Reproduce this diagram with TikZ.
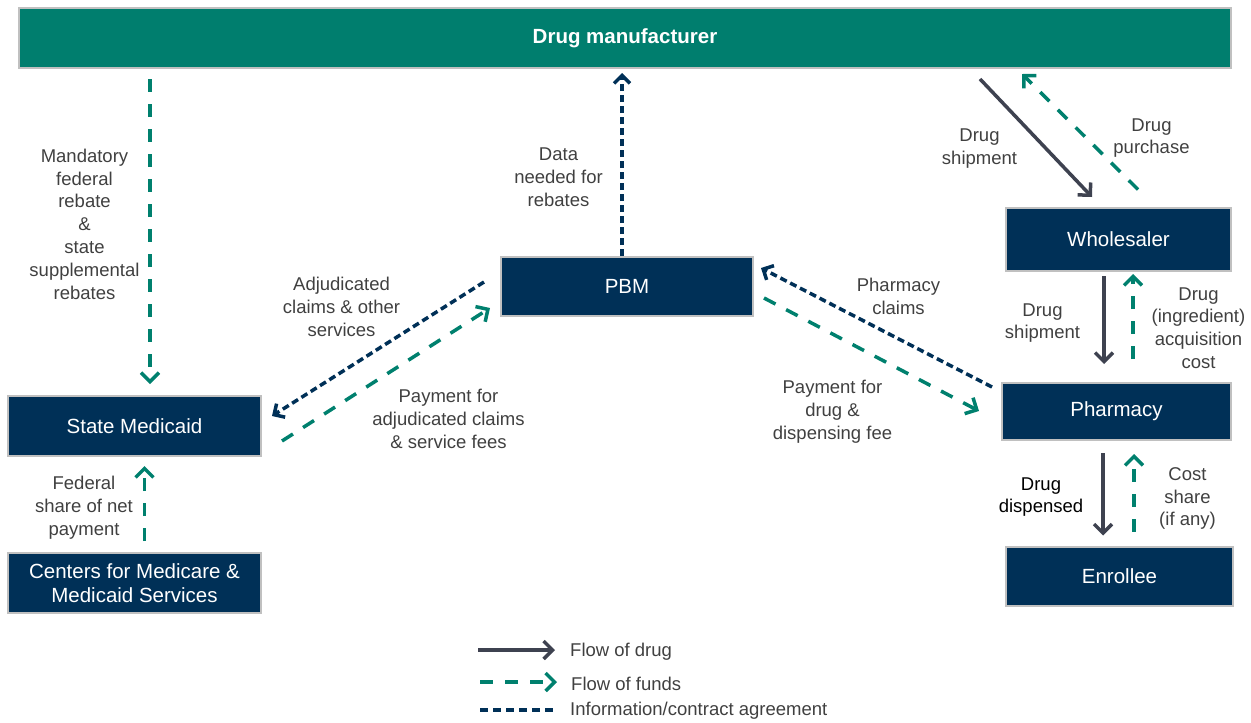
\documentclass[tikz,border=0pt]{standalone}
\usepackage{fontspec}
\setmainfont{Liberation Sans}
\usetikzlibrary{arrows.meta,calc}

\definecolor{mfrgreen}{RGB}{0,126,110}
\definecolor{boxnavy}{RGB}{0,48,87}
\definecolor{druggray}{RGB}{62,66,80}
\definecolor{fundgreen}{RGB}{0,128,110}
\definecolor{edgegray}{RGB}{192,192,192}
\definecolor{txtgray}{RGB}{64,64,64}

\newcommand\boxfont{\fontsize{20.5}{24.5}\selectfont}
\newcommand\lblfont{\fontsize{18.5}{22.8}\selectfont}

\begin{document}
\begin{tikzpicture}[x=1pt,y=-1pt,
   entity/.style={draw=edgegray,line width=2pt,fill=boxnavy,text=white,
      font=\boxfont,align=center,inner sep=0pt},
   lbl/.style={text=txtgray,font=\lblfont,align=center,inner sep=0pt},
   drug/.style={draw=druggray,line width=3.5pt,
      -{Straight Barb[length=9pt,width=18pt]}},
   funds/.style={draw=fundgreen,line width=3.5pt,dash pattern=on 13pt off 12pt,
      -{Straight Barb[length=9pt,width=18pt]}},
   info/.style={draw=boxnavy,line width=3.5pt,dash pattern=on 7pt off 4pt,
      -{Straight Barb[length=8pt,width=16pt]}}]

\useasboundingbox (0,0) rectangle (1251,723);

% parties
\node[entity,fill=mfrgreen,font=\boxfont\bfseries,minimum width=1212pt,minimum height=60pt]
   (mfr) at (625,38) {Drug manufacturer};
\node[entity,minimum width=225pt,minimum height=63pt] (wh) at (1118.5,239.5) {Wholesaler};
\node[entity,minimum width=252pt,minimum height=59pt] (pbm) at (627,286.5) {PBM};
\node[entity,minimum width=253pt,minimum height=60pt] (sm) at (134.5,426) {State Medicaid};
\node[entity,minimum width=253pt,minimum height=60pt] (cms) at (134.5,583)
   {Centers for Medicare \&\\Medicaid Services};
\node[entity,minimum width=229pt,minimum height=57pt] (ph) at (1116.5,411.5) {Pharmacy};
\node[entity,minimum width=227pt,minimum height=59pt] (en) at (1119.5,576) {Enrollee};

% flows between the parties
\draw[funds] ($(sm.north |- mfr.south)+(15.5,10)$) -- ($(sm.north)+(15.5,-11)$);
\draw[info] ($(pbm.north)+(-5,0)$) -- ($(pbm.north |- mfr.south)+(-5,4)$);
\draw[drug] ($(wh.north |- mfr.south)+(-138.5,10)$) -- ($(wh.north)+(-26.5,-10)$);
\draw[funds] ($(wh.north)+(19.5,-17.5)$) -- ($(wh.north |- mfr.south)+(-96.5,5)$);
\draw[drug] ($(wh.south)+(-14.5,4)$) -- ($(ph.north -| wh.south)+(-14.5,-18)$);
\draw[funds] ($(ph.north -| wh.south)+(14.5,-23)$) -- ($(wh.south)+(14.5,2)$);
\draw[drug] ($(ph.south)+(-13.5,12)$) -- ($(en.north -| ph.south)+(-13.5,-10)$);
\draw[funds] ($(en.north -| ph.south)+(17.5,-14)$) -- ($(ph.south)+(17.5,13)$);
\draw[funds] ($(cms.north)+(10,-11)$) -- ($(sm.south)+(10,9)$);
\draw[info] ($(pbm.west)+(-16,-4.5)$) -- ($(sm.east)+(10,-10)$);
\draw[funds] ($(sm.east)+(20,15)$) -- ($(pbm.west)+(-10,21.5)$);
\draw[info] ($(ph.west)+(-9,-24.5)$) -- ($(pbm.east)+(7,-18.5)$);
\draw[funds] ($(pbm.east)+(10,11.5)$) -- ($(ph.west)+(-22,-0.5)$);

% flow labels
\node[lbl] (mandl) at (84.5,224) {Mandatory\\federal\\rebate\\\&\\state\\supplemental\\rebates};
\node[lbl] (datal) at (558.5,177.5) {Data\\needed for\\rebates};
\node[lbl] (shipl) at (979.5,148.5) {Drug\\shipment};
\node[lbl] (purchl) at (1151.5,138) {Drug\\purchase};
\node[lbl] (adjl) at (341.5,307) {Adjudicated\\claims \& other\\services};
\node[lbl] (payadjl) at (448.5,419) {Payment for\\adjudicated claims\\\& service fees};
\node[lbl] (phclaiml) at (898.5,296.5) {Pharmacy\\claims};
\node[lbl] (payphl) at (832.5,412) {Payment for\\drug \&\\dispensing fee};
\node[lbl] (ship2l) at (1042.5,323) {Drug\\shipment};
\node[lbl] (costl) at (1198.5,328) {Drug\\(ingredient)\\acquisition\\cost};
\node[lbl,text=black] (displ) at (1041,497) {Drug\\dispensed};
\node[lbl] (sharel) at (1187.5,498.5) {Cost\\share\\(if any)};
\node[lbl] (fedl) at (84,507.5) {Federal\\share of net\\payment};

% legend
\node[lbl,anchor=west] (lgdrug) at (570,652) {Flow of drug};
\node[lbl,anchor=west] (lgfunds) at (571,684) {Flow of funds};
\node[lbl,anchor=west] (lginfo) at (570,711) {Information/contract agreement};
\coordinate (lgdrugtail) at (478,650);
\coordinate (lgfundstail) at (480,682);
\coordinate (lginfotail) at (480,710);
\draw[drug] (lgdrugtail) -- ($(lgdrug.west)+(-15,-2)$);
\draw[funds] (lgfundstail) -- ($(lgfunds.west)+(-14,-2)$);
\draw[info,-,dash pattern=on 8pt off 5pt] (lginfotail) -- ($(lginfo.west)+(-15,-1)$);

\end{tikzpicture}
\end{document}
